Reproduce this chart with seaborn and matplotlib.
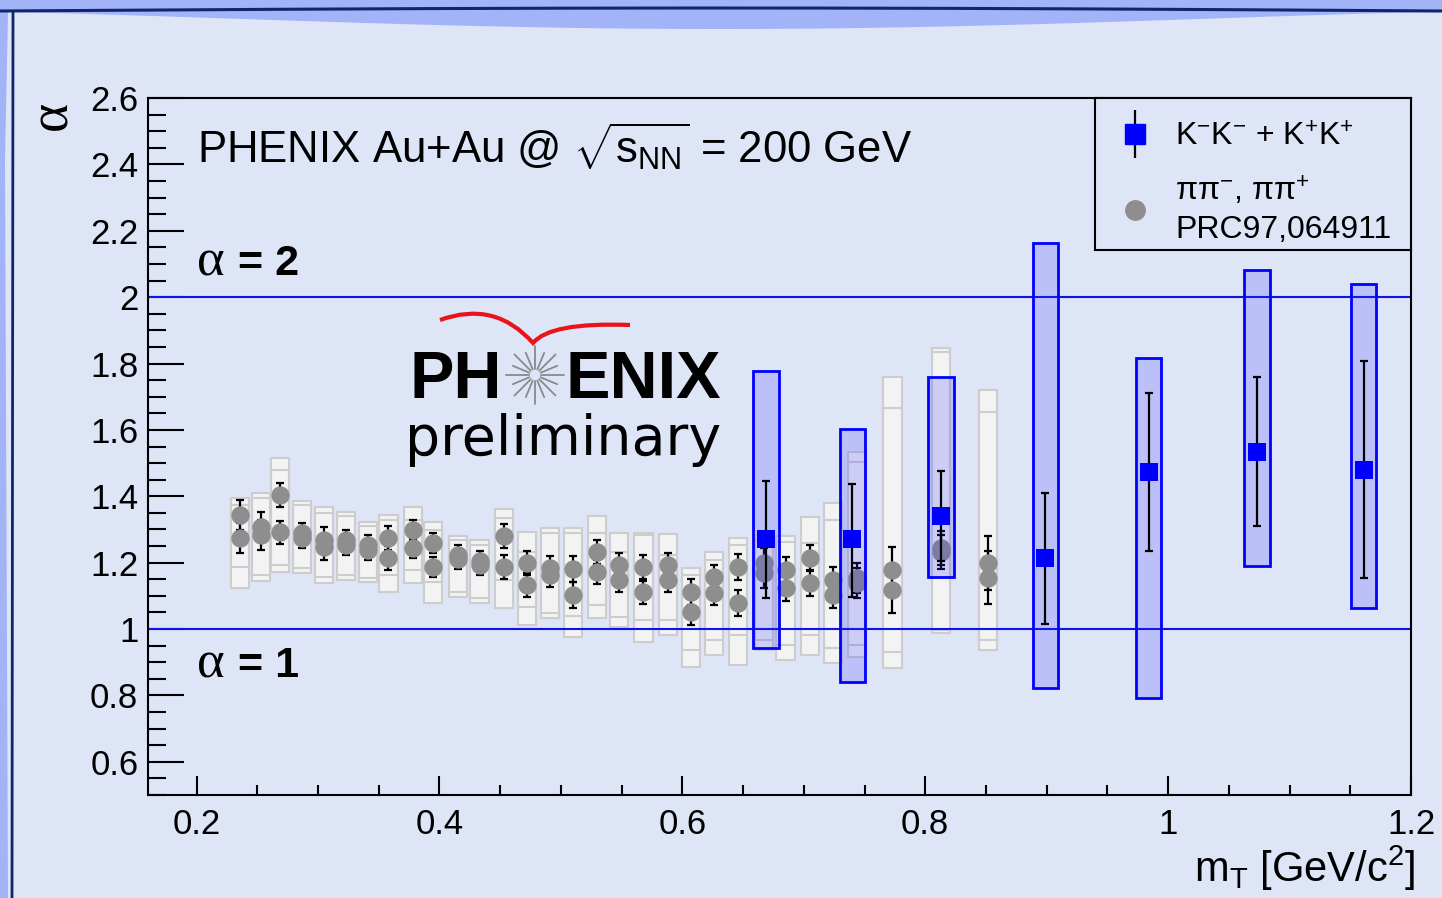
import numpy as np
import matplotlib.pyplot as plt
import seaborn as sns
from matplotlib.patches import Rectangle, Polygon, PathPatch
from matplotlib.path import Path
from matplotlib.lines import Line2D
from matplotlib.legend_handler import HandlerTuple
from matplotlib.ticker import MultipleLocator, FuncFormatter

# kaon pairs K-K- + K+K+
k_mt = [0.669, 0.740, 0.813, 0.899, 0.984, 1.073, 1.161]
k_alpha = [1.271, 1.271, 1.340, 1.214, 1.473, 1.533, 1.479]
k_stat_hi = [1.446, 1.437, 1.476, 1.410, 1.711, 1.759, 1.807]
k_stat_lo = [1.093, 1.096, 1.205, 1.015, 1.235, 1.310, 1.154]
k_sys_hi = [1.777, 1.602, 1.759, 2.163, 1.816, 2.081, 2.039]
k_sys_lo = [0.943, 0.840, 1.157, 0.822, 0.792, 1.190, 1.063]

# pion pairs (PRC97,064911), two charge combinations per mT bin
pi_mt = [0.236, 0.253, 0.269, 0.287, 0.305, 0.323, 0.341, 0.358, 0.378, 0.395,
         0.415, 0.433, 0.453, 0.472, 0.491, 0.510, 0.530, 0.548, 0.568, 0.588,
         0.607, 0.626, 0.646, 0.667, 0.685, 0.705, 0.724, 0.744, 0.773, 0.813, 0.852]
pim_alpha = [1.343, 1.307, 1.404, 1.289, 1.268, 1.268, 1.253, 1.274, 1.298, 1.259,
             1.223, 1.205, 1.280, 1.199, 1.184, 1.181, 1.232, 1.193, 1.187, 1.193,
             1.111, 1.157, 1.187, 1.199, 1.178, 1.214, 1.148, 1.154, 1.178, 1.244, 1.199]
pip_alpha = [1.274, 1.283, 1.292, 1.274, 1.247, 1.253, 1.238, 1.214, 1.244, 1.187,
             1.211, 1.193, 1.187, 1.133, 1.163, 1.102, 1.172, 1.148, 1.111, 1.148,
             1.051, 1.108, 1.078, 1.169, 1.123, 1.139, 1.102, 1.139, 1.117, 1.232, 1.154]
pi_stat = [0.045, 0.045, 0.035, 0.03, 0.04, 0.03, 0.03, 0.035, 0.03, 0.03,
           0.03, 0.03, 0.035, 0.035, 0.035, 0.04, 0.035, 0.035, 0.035, 0.035,
           0.04, 0.035, 0.04, 0.045, 0.04, 0.04, 0.04, 0.045, 0.07, 0.05, 0.08]
pim_sys_hi = [1.395, 1.410, 1.515, 1.386, 1.367, 1.352, 1.322, 1.343, 1.367, 1.322,
              1.280, 1.268, 1.361, 1.292, 1.304, 1.304, 1.340, 1.289, 1.289, 1.286,
              1.184, 1.232, 1.274, 1.283, 1.280, 1.337, 1.380, 1.533, 1.759, 1.846, 1.720]
pim_sys_lo = [1.187, 1.163, 1.193, 1.184, 1.157, 1.163, 1.154, 1.163, 1.178, 1.142,
              1.111, 1.093, 1.148, 1.066, 1.048, 1.039, 1.072, 1.036, 1.027, 1.027,
              0.937, 0.967, 0.982, 0.967, 0.952, 0.982, 0.943, 0.952, 0.931, 0.997, 0.967]
pip_sys_hi = [1.373, 1.395, 1.479, 1.373, 1.349, 1.340, 1.310, 1.328, 1.328, 1.298,
              1.268, 1.253, 1.334, 1.232, 1.289, 1.289, 1.289, 1.232, 1.283, 1.223,
              1.163, 1.208, 1.253, 1.268, 1.262, 1.259, 1.328, 1.503, 1.666, 1.834, 1.654]
pip_sys_lo = [1.123, 1.145, 1.172, 1.169, 1.139, 1.148, 1.142, 1.111, 1.139, 1.078,
              1.096, 1.078, 1.063, 1.012, 1.033, 0.976, 1.033, 1.006, 0.961, 0.982,
              0.886, 0.922, 0.892, 0.937, 0.907, 0.922, 0.898, 0.916, 0.883, 0.988, 0.937]

W, H = 1442, 898
BG = '#dee5f7'
BAND = '#a3b3f7'
NAVY = '#0d2868'
GREY = '#8e8e8e'


def P(x, y):
    # pixel position (from top left) -> figure fraction
    return (x / W, 1 - y / H)


sns.set_style("ticks")
plt.rcParams['font.family'] = ['Liberation Sans', 'DejaVu Sans']
plt.rcParams['mathtext.fontset'] = 'custom'
plt.rcParams['mathtext.rm'] = 'Liberation Sans'
plt.rcParams['mathtext.it'] = 'Liberation Sans'
plt.rcParams['mathtext.bf'] = 'Liberation Sans:bold'
plt.rcParams['text.color'] = 'black'
plt.rcParams['xtick.color'] = 'black'
plt.rcParams['ytick.color'] = 'black'
plt.rcParams['xtick.labelcolor'] = 'black'
plt.rcParams['ytick.labelcolor'] = 'black'

fig = plt.figure(figsize=(W / 100, H / 100), dpi=100, facecolor=BG)

# slide frame decoration
xs = np.linspace(0, W, 200)
band_low = 12 + 17 * np.sin(np.pi * xs / W) ** 1.3
band = [P(0, 0), P(W, 0)] + [P(x, y) for x, y in zip(xs[::-1], band_low[::-1])]
fig.add_artist(Polygon(band, closed=True, fc=BAND, ec='none', transform=fig.transFigure))
fig.add_artist(Polygon([P(0, 12), P(8, 12), P(5, 160), P(8, H), P(0, H)], closed=True,
                       fc=BAND, ec='none', transform=fig.transFigure))
navy_y = 11 - 3 * np.sin(np.pi * xs / W)
fig.add_artist(Line2D([x / W for x in xs], [1 - y / H for y in navy_y], color=NAVY, lw=2.2,
                      transform=fig.transFigure))
fig.add_artist(Line2D([13 / W, 12 / W], [1 - 12 / H, 0], color=NAVY, lw=2,
                      transform=fig.transFigure))

ax = fig.add_axes([148 / W, 1 - 795 / H, (1411 - 148) / W, (795 - 98) / H])
ax.set_facecolor('none')

# pion systematic boxes: fills first, then outlines
bw = 0.015
for x, lo, hi in zip(pi_mt * 2, pim_sys_lo + pip_sys_lo, pim_sys_hi + pip_sys_hi):
    ax.add_patch(Rectangle((x - bw / 2, lo), bw, hi - lo, fc='#f3f3f3', ec='none', zorder=1))
for x, lo, hi in zip(pi_mt * 2, pim_sys_lo + pip_sys_lo, pim_sys_hi + pip_sys_hi):
    ax.add_patch(Rectangle((x - bw / 2, lo), bw, hi - lo, fill=False, ec='#cdcdcd', lw=1.5, zorder=1.5))

ax.axhline(1, color='#1010f0', lw=1.5, zorder=2)
ax.axhline(2, color='#1010f0', lw=1.5, zorder=2)

ax.errorbar(pi_mt, pim_alpha, yerr=pi_stat, fmt='none', ecolor='black', elinewidth=1.6,
            capsize=3, capthick=1.6, zorder=3)
ax.errorbar(pi_mt, pip_alpha, yerr=pi_stat, fmt='none', ecolor='black', elinewidth=1.6,
            capsize=3, capthick=1.6, zorder=3)
sns.scatterplot(x=pi_mt * 2, y=pim_alpha + pip_alpha, ax=ax, color=GREY, s=175,
                linewidth=0, marker='o', zorder=4, legend=False)

# kaon systematic boxes
kw = 0.021
for x, lo, hi in zip(k_mt, k_sys_lo, k_sys_hi):
    ax.add_patch(Rectangle((x - kw / 2, lo), kw, hi - lo, fc=(0.2, 0.2, 1.0, 0.2),
                           ec='#0000ff', lw=2, zorder=5))
k_err = [np.array(k_alpha) - np.array(k_stat_lo), np.array(k_stat_hi) - np.array(k_alpha)]
ax.errorbar(k_mt, k_alpha, yerr=k_err, fmt='none', ecolor='black', elinewidth=1.6,
            capsize=3, capthick=1.6, zorder=6)
sns.scatterplot(x=k_mt, y=k_alpha, ax=ax, color='#0000ff', s=180, linewidth=0,
                marker='s', zorder=7, legend=False)

ax.set_xlim(0.16, 1.2)
ax.set_ylim(0.5, 2.6)
ax.xaxis.set_major_locator(MultipleLocator(0.2))
ax.xaxis.set_minor_locator(MultipleLocator(0.05))
ax.yaxis.set_major_locator(MultipleLocator(0.2))
ax.yaxis.set_minor_locator(MultipleLocator(0.05))
fmt = FuncFormatter(lambda v, p: '%g' % round(v, 2))
ax.xaxis.set_major_formatter(fmt)
ax.yaxis.set_major_formatter(fmt)
ax.tick_params(which='both', direction='in', top=False, right=False, color='black',
               width=1.5, labelsize=25)
ax.tick_params(axis='y', which='major', length=26, pad=7)
ax.tick_params(axis='y', which='minor', length=13)
ax.tick_params(axis='x', which='major', length=14, pad=9)
ax.tick_params(axis='x', which='minor', length=7)
for s in ax.spines.values():
    s.set_color('black')
    s.set_linewidth(1.5)
ax.set_xlabel('')
ax.set_ylabel('')

# labels inside the frame
ax.text(0.2, 2.404, r"PHENIX Au+Au @ $\sqrt{s_{\rm NN}}$ = 200 GeV", fontsize=31.5,
        va='baseline', zorder=8)
ax.text(0.2, 2.066, "α", family='Liberation Serif', fontsize=38, va='baseline')
ax.text(0.234, 2.066, "= 2", fontsize=31, fontweight='bold', va='baseline')
ax.text(0.2, 0.855, "α", family='Liberation Serif', fontsize=38, va='baseline')
ax.text(0.234, 0.855, "= 1", fontsize=31, fontweight='bold', va='baseline')

# legend: separate frame box, entries placed inside it
ax.add_patch(Rectangle((0.7498, 0.782), 0.2502, 0.218, transform=ax.transAxes, fc=BG,
                       ec='black', lw=1.5, zorder=9, clip_on=False))
h_k = (Line2D([], [], marker='|', ms=34, mew=1.6, color='black', ls='none'),
       Line2D([], [], marker='s', ms=14, color='#0000ff', ls='none'))
h_pi = Line2D([], [], marker='o', ms=14, color=GREY, ls='none')
leg = ax.legend([h_k, h_pi],
                [r"K$^{-}$K$^{-}$ + K$^{+}$K$^{+}$", "ππ$^{-}$, ππ$^{+}$\nPRC97,064911"],
                handler_map={tuple: HandlerTuple(ndivide=1)},
                loc='upper left', bbox_to_anchor=(0.75, 0.9857, 0.25, 0), mode='expand',
                borderaxespad=0, fontsize=23, frameon=False,
                borderpad=0.45, handlelength=1.6, handletextpad=0.45, labelspacing=0.7)
for t in leg.get_texts():
    t.set_linespacing(1.3)
leg.set_zorder(10)

# axis titles
fig.text(*P(1415, 882), r"m$_{\rm T}$ [GeV/c$^{2}$]", ha='right', va='baseline', fontsize=30)
fig.text(*P(52, 115), "α", rotation=90, family='Liberation Serif', fontsize=40,
         ha='center', va='center')

# PHENIX preliminary logo
fig.text(*P(410, 398), "PH", fontsize=48, fontweight='bold', va='baseline')
fig.text(*P(565, 398), "ENIX", fontsize=48, fontweight='bold', va='baseline')
fig.text(*P(405, 455), "preliminary", family='DejaVu Sans', fontsize=40, va='baseline')
cx, cy = 535, 375
for i, a in enumerate(np.linspace(0, 2 * np.pi, 16, endpoint=False)):
    r1 = 29 if i % 2 == 0 else 24
    fig.add_artist(Line2D([(cx + 6 * np.cos(a)) / W, (cx + r1 * np.cos(a)) / W],
                          [1 - (cy + 6 * np.sin(a)) / H, 1 - (cy + r1 * np.sin(a)) / H],
                          color='#8a8a8a', lw=1.3, transform=fig.transFigure))
sw = Path([P(440, 320), P(495, 300), P(533, 343), P(550, 322), P(630, 325)],
          [Path.MOVETO, Path.CURVE3, Path.CURVE3, Path.CURVE3, Path.CURVE3])
fig.add_artist(PathPatch(sw, fill=False, ec='#e8131b', lw=3, transform=fig.transFigure))

fig.savefig('out.png', dpi=100, facecolor=BG)
